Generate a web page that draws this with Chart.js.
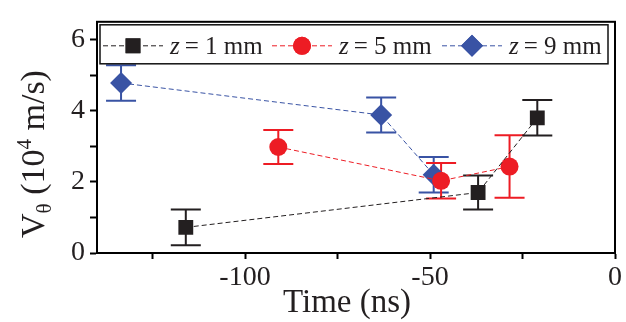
<!DOCTYPE html>
<html>
<head>
<meta charset="utf-8">
<script src="https://cdn.jsdelivr.net/npm/chart.js@4.4.1/dist/chart.umd.min.js"></script>
<style>
  html, body { margin: 0; padding: 0; background: #fff; }
  #wrap { width: 626px; height: 322px; }
</style>
</head>
<body>
<div id="wrap"><canvas id="chart" width="626" height="322"></canvas></div>
<script>
// z positions (mm) for the three series
const zValues = [1, 5, 9];
const colors = ['#231f20', '#ed1c24', '#3953a4'];
const pointStyles = ['rect', 'circle', 'rectRot'];
const pointSizes = [10.5, 9, 11];

// z = 1 mm
const timeZ1 = [-116, -37, -21];
const velZ1 = [0.72, 1.70, 3.80];
const errZ1 = [0.50, 0.48, 0.50];

// z = 5 mm
const timeZ5 = [-91, -47, -28.5];
const velZ5 = [2.98, 2.03, 2.43];
const errZ5 = [0.48, 0.50, 0.88];

// z = 9 mm
const timeZ9 = [-133.5, -63.2, -49];
const velZ9 = [4.78, 3.88, 2.20];
const errZ9 = [0.50, 0.49, 0.50];

const xTicks = [-125, -100, -75, -50, -25, 0];
const yTicks = [0, 1, 2, 3, 4, 5, 6];

const times = [timeZ1, timeZ5, timeZ9];
const vels = [velZ1, velZ5, velZ9];
const errs = [errZ1, errZ5, errZ9];

const FONT = "'Liberation Serif', 'Times New Roman', serif";

const datasets = zValues.map((z, i) => ({
    label: 'z = ' + z + ' mm',
    data: times[i].map((t, j) => ({ x: t, y: vels[i][j] })),
    errors: errs[i],
    borderColor: colors[i],
    backgroundColor: colors[i],
    borderWidth: 1,
    borderDash: [5, 3],
    pointStyle: pointStyles[i],
    pointRadius: pointSizes[i],
    pointBorderWidth: 0,
    showLine: true,
    order: [1, 2, 3][i]
}));

// vertical error bars with caps, drawn under the markers
const errorBars = {
    id: 'errorBars',
    beforeDatasetsDraw(chart) {
        const ctx = chart.ctx;
        const xs = chart.scales.x, ys = chart.scales.y;
        ctx.save();
        chart.data.datasets.slice().reverse().forEach(ds => {
            ctx.strokeStyle = ds.borderColor;
            ctx.lineWidth = 2;
            ds.data.forEach((p, j) => {
                const e = ds.errors[j];
                const px = xs.getPixelForValue(p.x);
                const top = ys.getPixelForValue(p.y + e);
                const bot = ys.getPixelForValue(p.y - e);
                ctx.beginPath();
                ctx.moveTo(px, top); ctx.lineTo(px, bot);
                ctx.moveTo(px - 15, top); ctx.lineTo(px + 15, top);
                ctx.moveTo(px - 15, bot); ctx.lineTo(px + 15, bot);
                ctx.stroke();
            });
        });
        ctx.restore();
    }
};

// frame, legend and axis titles
const decorations = {
    id: 'decorations',
    afterDraw(chart) {
        const ctx = chart.ctx;
        const a = chart.chartArea;
        ctx.save();
        ctx.strokeStyle = '#000';
        ctx.lineWidth = 2;
        ctx.strokeRect(a.left, a.top, a.right - a.left, a.bottom - a.top);

        // legend box
        const lx = a.left + 3, ly = a.top + 3, lw = 508, lh = 39;
        ctx.fillStyle = '#fff';
        ctx.fillRect(lx, ly, lw, lh);
        ctx.lineWidth = 1.5;
        ctx.strokeStyle = '#111';
        ctx.strokeRect(lx, ly, lw, lh);

        const starts = [lx + 3, lx + 172, lx + 342];
        const cy = ly + 21;
        chart.data.datasets.forEach((ds, i) => {
            const x0 = starts[i];
            ctx.strokeStyle = ds.borderColor;
            ctx.lineWidth = 1;
            ctx.setLineDash([5, 3]);
            ctx.beginPath();
            ctx.moveTo(x0, cy); ctx.lineTo(x0 + 60, cy);
            ctx.stroke();
            ctx.setLineDash([]);
            ctx.fillStyle = ds.backgroundColor;
            Chart.helpers.drawPoint(ctx, { pointStyle: ds.pointStyle, radius: ds.pointRadius, borderWidth: 0 }, x0 + 30, cy);
            ctx.fill();

            ctx.fillStyle = '#231f20';
            ctx.textBaseline = 'alphabetic';
            ctx.textAlign = 'left';
            let tx = x0 + 67;
            ctx.font = 'italic 25px ' + FONT;
            ctx.fillText('z', tx, cy + 8);
            tx += ctx.measureText('z').width + 5;
            ctx.font = '25px ' + FONT;
            ctx.fillText('= ' + zValues[i] + ' mm', tx, cy + 8);
        });

        // y title: V_theta (10^4 m/s)
        ctx.fillStyle = '#231f20';
        ctx.translate(44, 154);
        ctx.rotate(-Math.PI / 2);
        const parts = [
            ['V', 34, 0], ['\u03b8', 21, 7], [' (10', 34, 0], ['4', 21, -13], [' m/s)', 34, 0]
        ];
        let total = 0;
        parts.forEach(p => { ctx.font = p[1] + 'px ' + FONT; total += ctx.measureText(p[0]).width; });
        let px = -total / 2;
        ctx.textAlign = 'left';
        parts.forEach(p => {
            ctx.font = p[1] + 'px ' + FONT;
            ctx.fillText(p[0], px, p[2]);
            px += ctx.measureText(p[0]).width;
        });
        ctx.setTransform(1, 0, 0, 1, 0, 0);

        // x title
        ctx.font = '33px ' + FONT;
        ctx.textAlign = 'center';
        ctx.fillText('Time (ns)', 347, 312);
        ctx.restore();
    }
};

new Chart(document.getElementById('chart'), {
    type: 'scatter',
    data: { datasets: datasets },
    options: {
        responsive: false,
        animation: false,
        devicePixelRatio: 1,
        layout: { padding: { top: 9, right: 8, left: 0, bottom: 0 } },
        plugins: { legend: { display: false }, tooltip: { enabled: false } },
        scales: {
            x: {
                type: 'linear',
                min: -140,
                max: 0,
                afterBuildTicks: axis => { axis.ticks = xTicks.map(v => ({ value: v })); },
                afterFit: axis => { axis.height = 69; },
                grid: { drawOnChartArea: false, drawTicks: true, tickLength: 6, tickWidth: 2, color: '#000' },
                border: { display: true, width: 2, color: '#000' },
                ticks: {
                    color: '#231f20',
                    font: { family: FONT, size: 28 },
                    padding: 2,
                    maxRotation: 0,
                    autoSkip: false,
                    callback: v => (v % 50 === 0 ? String(v) : '')
                }
            },
            y: {
                type: 'linear',
                min: 0,
                max: 6.5,
                afterBuildTicks: axis => { axis.ticks = yTicks.map(v => ({ value: v })); },
                afterFit: axis => { axis.width = 97; },
                grid: { drawOnChartArea: false, drawTicks: true, tickLength: 7, tickWidth: 2, color: '#000' },
                border: { display: true, width: 2, color: '#000' },
                ticks: {
                    color: '#231f20',
                    font: { family: FONT, size: 28 },
                    padding: 5,
                    autoSkip: false,
                    callback: v => (v % 2 === 0 ? String(v) : '')
                }
            }
        }
    },
    plugins: [errorBars, decorations]
});
</script>
</body>
</html>
